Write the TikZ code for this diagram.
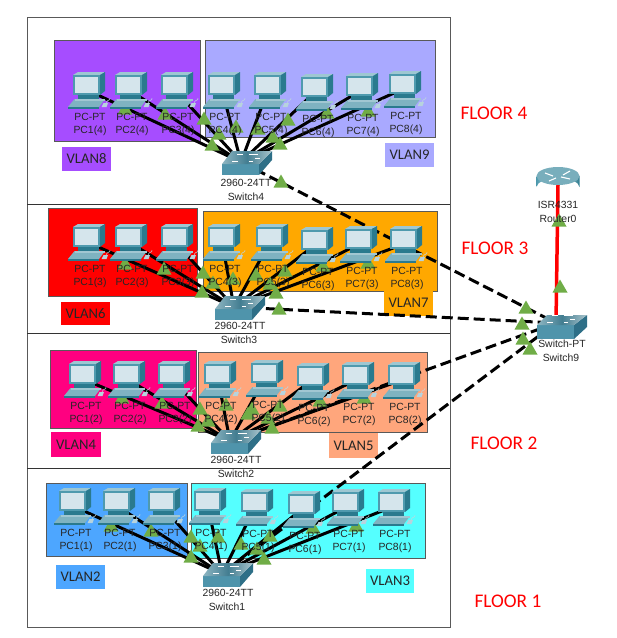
\documentclass[tikz,border=0pt]{standalone}
\usepackage{fontspec}
\setmainfont{Liberation Sans}
\newfontfamily\calib{Carlito}
\definecolor{vEight}{HTML}{A64DFF}
\definecolor{vNine}{HTML}{A9A9FF}
\definecolor{vSix}{HTML}{FF0000}
\definecolor{vSeven}{HTML}{FFA800}
\definecolor{vFour}{HTML}{FF0080}
\definecolor{vFive}{HTML}{FFA67C}
\definecolor{vTwo}{HTML}{4DA6FF}
\definecolor{vThree}{HTML}{55FFFF}
\definecolor{lamp}{HTML}{70AD47}
\definecolor{pcdark}{HTML}{2A7A8E}
\definecolor{pcmid}{HTML}{4F9AAE}
\definecolor{pclight}{HTML}{D5E5EC}
\definecolor{pckey}{HTML}{7FB3C1}
\definecolor{swfront}{HTML}{4F94AB}
\definecolor{swside}{HTML}{2E6F87}
\definecolor{swtop}{HTML}{A9C4CC}
\tikzset{
  x=1pt,y=-1pt,
  framebox/.style={draw=black!65,line width=1pt},
  vbox/.style={draw=black!65,line width=1pt},
  vtag/.style={inner sep=0pt,font=\calib\fontsize{14.7}{16}\selectfont,text=black!85},
  floortext/.style={inner sep=0pt,text=red,font=\calib\fontsize{19.3}{22}\selectfont},
  lab/.style={inner sep=0pt,text=black!85,font=\fontsize{10.4}{12}\selectfont},
  hub/.style={inner sep=0pt,minimum size=1pt},
  link/.style={line width=3pt,black},
  trunk/.style={line width=3pt,black,dash pattern=on 11pt off 5pt},
  uplink/.style={line width=3.5pt,red},
}
% PC icon around a named centre
\newcommand\pcicon[1]{%
  \begin{scope}[shift={(#1.center)}]
    % keyboard
    \fill[pckey] (-19,17)--(-12.5,9)--(18,9)--(12,17)--cycle;
    \fill[pcdark] (-19,17) rectangle (12,18.5);
    \fill[pckey!60!pclight] (-12.5,9) rectangle (18,10.5);
    % mouse and cable
    \fill[pclight!65!pckey] (14.5,17)--(16.5,13)--(21,13)--(19.5,17)--cycle;
    \draw[white!70!pcdark,line width=.5pt] (19,13) .. controls (20,9) and (24,11) .. (23,8);
    % stand
    \fill[pcdark] (-9,5) rectangle (12,9.2);
    % monitor
    \fill[pcmid!55!white] (-14,-15)--(-9,-18)--(18,-18)--(13,-15)--cycle;
    \fill[pcdark] (13,-15)--(18,-18)--(18,1)--(13,5)--cycle;
    \fill[pcmid] (-14,-15) rectangle (13,5);
    \fill[pclight] (-12,-13) rectangle (11,3);
  \end{scope}}
% switch icon: name, top depth, front height
\newcommand\swicon[3]{%
  \begin{scope}[shift={(#1.center)}]
    \fill[swfront] (-19,2) rectangle (18,{2+#3});
    \fill[swside] (18,2)--(31,{2-#2})--(31,{2-#2+#3-2})--(18,{2+#3})--cycle;
    \shade[left color=swtop!70!swfront,right color=swtop,middle color=swfront!85!black]
      (-19,2)--(-9,{2-#2})--(31,{2-#2})--(18,2)--cycle;
    \draw[white,line width=.8pt] (-9,-1)--(-3,-1) (-4,-8)--(2,-8) (8,-8)--(17,-8) (14,-4)--(19,-4) (8,-1)--(12,-1);
  \end{scope}}
\newcommand\lamp[2]{\fill[lamp] (#1-7.5,#2+6.5)--(#1,#2-6.5)--(#1+7.5,#2+6.5)--cycle;}
\begin{document}
\begin{tikzpicture}
\useasboundingbox (0,0) rectangle (617,638);
\fill[white] (0,0) rectangle (617,638);
% frame and floors
\draw[framebox] (27,17) rectangle (450,627);
\draw[framebox,black!80] (27,204)--(450,204) (27,333)--(450,333) (27,468)--(450,468);
% vlan areas
\draw[vbox,fill=vEight] (54,40) rectangle (200,141);
\draw[vbox,fill=vNine] (205,40) rectangle (435,137);
\draw[vbox,fill=vSix] (48,208) rectangle (197,296);
\draw[vbox,fill=vSeven] (203,211) rectangle (437,291);
\draw[vbox,fill=vFour] (50,350) rectangle (196,428);
\draw[vbox,fill=vFive] (198,352) rectangle (427,432);
\draw[vbox,fill=vTwo] (46,483) rectangle (187,556);
\draw[vbox,fill=vThree] (191,483) rectangle (425,558);
% vlan tags
\fill[vEight] (62,147) rectangle (111,171); \node[vtag] (tag8) at (86.5,159) {VLAN8};
\fill[vNine] (385,143) rectangle (434,167); \node[vtag] (tag9) at (409.5,155) {VLAN9};
\fill[vSix] (61,302) rectangle (110,325); \node[vtag] (tag6) at (85.5,313.5) {VLAN6};
\fill[vSeven] (384,291) rectangle (433,316); \node[vtag] (tag7) at (408.5,303) {VLAN7};
\fill[vFour] (51,432) rectangle (101,457); \node[vtag] (tag4) at (76,444.5) {VLAN4};
\fill[vFive] (329,433) rectangle (378,458); \node[vtag] (tag5) at (353.5,445.5) {VLAN5};
\fill[vTwo] (56,565) rectangle (105,589); \node[vtag] (tag2) at (80.5,577) {VLAN2};
\fill[vThree] (366,569) rectangle (414,593); \node[vtag] (tag3) at (390,581) {VLAN3};
% floor names
\node[floortext] (f4) at (494,113) {FLOOR 4};
\node[floortext] (f3) at (495,248) {FLOOR 3};
\node[floortext] (f2) at (504,443) {FLOOR 2};
\node[floortext] (f1) at (508,601) {FLOOR 1};
% anchors
\node[hub] (sw4) at (241,162) {};
\node[hub] (sw3) at (234,307) {};
\node[hub] (sw2) at (230,441) {};
\node[hub] (sw1) at (222,574) {};
\node[hub] (sw9) at (556,323) {};
\node[hub] (rt) at (558,185) {};
\foreach \n/\x/\y in {
 41/87/90,42/129/90,43/175/90,44/222/90,45/268/90,46/315/92,47/360/91,48/403/89,
 31/87/242,32/129/242,33/175/242,34/222/242,35/270/242,36/315/245,37/359/244,38/404/244,
 21/83/379,22/127/379,23/172/379,24/218/379,25/265/378,26/311/381,27/356/380,28/402/380,
 11/73/506,12/117/506,13/162/506,14/208/506,15/255/507,16/302/509,17/346/507,18/392/507}
 {\node[hub] (pc\n) at (\x,\y) {};}
% trunks
\draw[trunk] (sw4.center)--(sw9.center);
\draw[trunk] (sw3.center)--(sw9.center);
\draw[trunk] (sw2.center)--(sw9.center);
\draw[trunk] (sw1.center)--(sw9.center);
\draw[uplink] (rt.center)--(sw9.center);
% access links
\foreach \f in {4,3,2,1}{\foreach \k in {1,...,8}{\draw[link] (pc\f\k.center)--(sw\f.center);}}
% link lights
\foreach \x/\y in {125/108,165/113,204/118,236/126,258/128,288/119,327/112,368/110,219/133,212/144,273/136,280/143,281/181,
 125/263,164/268,203/272,233/278,256/274,285/270,323/265,368/262,213/282,202/291,270/283,276/292,279/308,
 122/397,162/402,200/408,226/404,248/413,252/408,280/405,320/400,364/397,208/420,198/425,268/417,272/427,
 111/525,151/530,191/536,218/536,241/543,270/535,313/527,356/525,200/545,191/556,257/548,264/558,
 526/307,522/323,523/338,530/348,560/286,559/220}{\lamp{\x}{\y}}
% switches, router
\swicon{sw4}{13}{11}
\swicon{sw3}{13}{11}
\swicon{sw2}{13}{11}
\swicon{sw1}{13}{11}
\swicon{sw9}{10}{14}
\begin{scope}[shift={(rt.center)}]
  \shade[left color=pcmid,right color=pcdark,middle color=white] (-21.5,-9) -- (-21.5,2) arc[start angle=180,end angle=360,x radius=21.5,y radius=8.5] -- (21.5,-9) -- cycle;
  \fill[pcmid!55!pcdark!70!white] (0,-9) ellipse[x radius=21.5,y radius=9];
  \draw[white,line width=1.1pt] (-13,-12)--(-5,-9) (12,-14)--(5,-10) (-9,-4)--(-2,-7) (12,-6)--(3,-8);
\end{scope}
% PCs
\foreach \f in {4,3,2,1}{\foreach \k in {1,...,8}{\pcicon{pc\f\k}}}
% PC labels
\foreach \f in {4,3,2,1}{\foreach \k in {1,...,8}{
  \node[lab] (t\f\k) at ([xshift=3pt,yshift=-26.5pt]pc\f\k.center) {PC-PT};
  \node[lab] (n\f\k) at ([xshift=3pt,yshift=-40.5pt]pc\f\k.center) {PC\k(\f)};}}
% device labels
\node[lab] (sa4) at (246,183) {2960-24TT}; \node[lab] (sb4) at (246,197) {Switch4};
\node[lab] (sa3) at (240,326) {2960-24TT}; \node[lab] (sb3) at (239,340) {Switch3};
\node[lab] (sa2) at (236,460) {2960-24TT}; \node[lab] (sb2) at (236,474) {Switch2};
\node[lab] (sa1) at (228,593) {2960-24TT}; \node[lab] (sb1) at (227,607) {Switch1};
\node[lab] (sa9) at (562,344) {Switch-PT}; \node[lab] (sb9) at (561,358) {Switch9};
\node[lab] (ra) at (558,205) {ISR4331}; \node[lab] (rb) at (558,219) {Router0};
\end{tikzpicture}
\end{document}
